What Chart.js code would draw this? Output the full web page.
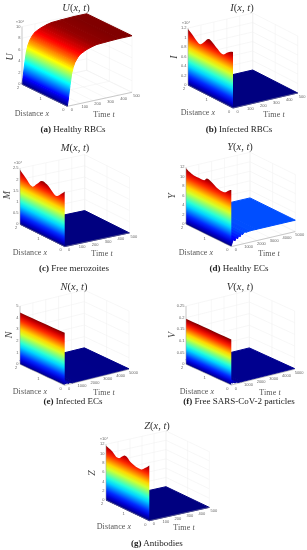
<!DOCTYPE html>
<html>
<head>
<meta charset="utf-8">
<title>Surface plots</title>
<script src="https://cdn.jsdelivr.net/npm/chart.js@4/dist/chart.umd.js"></script>
<style>
  html, body { margin: 0; padding: 0; background: #fff; }
  #page { position: relative; width: 307px; height: 550px; overflow: hidden; font-family: "Liberation Serif", serif; }
  canvas { position: absolute; }
  .lbl { position: absolute; transform: translate(-50%, -50%); white-space: nowrap; }
  .title { font-size: 10.5px; color: #333; }
  .name { font-size: 8px; color: #555; letter-spacing: 0.1px; }
  .cap { font-size: 9px; color: #222; }
  .zname { font-size: 10px; color: #444; transform: translate(-50%, -50%) rotate(-90deg); font-style: italic; }
</style>
</head>
<body>
<div id="page"></div>
<script>
// values
var distanceTicks = [0, 1, 2];
var timeTicksShort = [0, 100, 200, 300, 400, 500];
var timeTicksLong = [0, 1000, 2000, 3000, 4000, 5000];

var uTicks = [0, 2, 4, 6, 8, 10];
var iTicks = [0, 0.2, 0.4, 0.6, 0.8, 1, 1.2];
var mTicks = [0, 0.5, 1, 1.5, 2, 2.5];
var yTicks = [0, 2, 4, 6, 8, 10, 12];
var nTicks = [0, 1, 2, 3, 4, 5];
var vTicks = [0, 0.05, 0.1, 0.15, 0.2, 0.25];
var zTicks = [0, 2, 4, 6, 8, 10, 12];

// surface height along time at the near edge
var uTime = [0, 8, 21, 33, 45, 59, 78, 98, 125, 150, 190, 227, 300, 400, 500];
var uValues = [0, 1.2, 3.5, 5.4, 6.5, 7.3, 8, 8.5, 8.85, 9.1, 9.4, 9.6, 9.7, 9.8, 9.8];
var flatTimeShort = [0, 500];
var flatValuesShort = [0, 0];
var yTime = [0, 100, 200, 300, 400, 500, 600, 700, 800, 900, 1000, 1200, 1500, 2000, 5000];
var yValues = [0.2, 1, 1.6, 1.1, 1.9, 1.4, 2.1, 1.7, 2.3, 2, 2.4, 2.3, 2.4, 2.4, 2.4];
var nTime = [0, 100, 200, 300, 400, 600, 800, 5000];
var nValues = [0.35, 0.1, 0.2, 0.08, 0.12, 0.04, 0.05, 0.04];
var vValues = [0.02, 0.008, 0.012, 0.005, 0.007, 0.003, 0.003, 0.003];

// initial condition wall along distance at t = 0
var iDistance = [2, 1.81, 1.61, 1.46, 1.28, 1.09, 0.91, 0.69, 0.46, 0.24, 0.1, 0];
var iWall = [1.18, 1.11, 1.02, 0.99, 1.08, 1.19, 1.16, 1.08, 1.02, 1.11, 1.16, 1.18];
var mDistance = [2, 1.75, 1.45, 1.25, 1.03, 0.8, 0.55, 0.36, 0.15, 0];
var mWall = [2.43, 2.2, 1.96, 2.17, 2.42, 2.38, 2.18, 2.08, 2.28, 2.46];
var yDistance = [2, 1.85, 1.65, 1.4, 1.19, 1.07, 0.82, 0.6, 0.32, 0.1, 0];
var yWall = [11.8, 11.4, 11.1, 11.1, 11.2, 11.8, 11.4, 10.8, 10.7, 11.6, 11.9];
var nDistance = [2, 0];
var nWall = [4.45, 4.5];
var vWall = [0.195, 0.195];
var zDistance = [2, 1.74, 1.43, 1.12, 0.82, 0.4, 0.2, 0];
var zWall = [11.7, 11.2, 10.3, 11.5, 10.6, 10.2, 10.9, 11.9];

var panels = [
  { id: 'U', left: 0, top: 0, h: 135, tMax: 500, zMax: 10, ticks: uTicks, tTicks: timeTicksShort, times: uTime, vals: uValues, wallX: null, wallZ: null, exp: '×10⁶',
    o: [22, 84.3], dx: [45.3, 22], dt: [64.7, -14], zh: 57.7,
    title: [76, 7], cap: [73, 129], capB: '(a)', capT: ' Healthy RBCs', dist: [32, 113], time: [104, 114], zn: [9, 57] },
  { id: 'I', left: 154, top: 0, h: 135, tMax: 500, zMax: 1.2, ticks: iTicks, tTicks: timeTicksShort, times: flatTimeShort, vals: flatValuesShort, wallX: iDistance, wallZ: iWall, exp: '×10⁴',
    o: [34, 85], dx: [45, 23], dt: [64.7, -15], zh: 57,
    title: [88, 7], cap: [85, 129], capB: '(b)', capT: ' Infected RBCs', dist: [44, 112], time: [120, 114], zn: [19, 57] },
  { id: 'M', left: 0, top: 135, h: 135, tMax: 500, zMax: 2.5, ticks: mTicks, tTicks: timeTicksShort, times: flatTimeShort, vals: flatValuesShort, wallX: mDistance, wallZ: mWall, exp: '×10⁴',
    o: [20, 89.3], dx: [44.7, 22.3], dt: [64.7, -13.7], zh: 56,
    title: [75, 12], cap: [74, 133], capB: '(c)', capT: ' Free merozoites', dist: [30, 117], time: [102, 118], zn: [6, 60] },
  { id: 'Y', left: 154, top: 135, h: 135, tMax: 5000, zMax: 12, ticks: yTicks, tTicks: timeTicksLong, times: yTime, vals: yValues, wallX: yDistance, wallZ: yWall, exp: '',
    o: [32, 89.3], dx: [45.3, 22.3], dt: [64, -15], zh: 57,
    title: [86, 11], cap: [85, 133], capB: '(d)', capT: ' Healthy ECs', dist: [42, 117], time: [115, 118], zn: [17, 61] },
  { id: 'N', left: 0, top: 270, h: 135, tMax: 5000, zMax: 5, ticks: nTicks, tTicks: timeTicksLong, times: nTime, vals: nValues, wallX: nDistance, wallZ: nWall, exp: '',
    o: [20, 94.3], dx: [44.7, 21], dt: [64.3, -16], zh: 58.3,
    title: [74, 16], cap: [73, 131], capB: '(e)', capT: ' Infected ECs', dist: [30, 121], time: [104, 122], zn: [8, 65] },
  { id: 'V', left: 154, top: 270, h: 135, tMax: 5000, zMax: 0.25, ticks: vTicks, tTicks: timeTicksLong, times: nTime, vals: vValues, wallX: nDistance, wallZ: vWall, exp: '',
    o: [32, 94.3], dx: [45.3, 20.7], dt: [63.3, -15.7], zh: 58.3,
    title: [86, 16], cap: [85, 131], capB: '(f)', capT: ' Free SARS-CoV-2 particles', dist: [43, 121], time: [116, 122], zn: [17, 65] },
  { id: 'Z', left: 70, top: 405, h: 145, tMax: 500, zMax: 12, ticks: zTicks, tTicks: timeTicksShort, times: flatTimeShort, vals: flatValuesShort, wallX: zDistance, wallZ: zWall, exp: '×10⁴',
    o: [36, 95], dx: [43.3, 20.7], dt: [60, -13.3], zh: 55.7,
    title: [87, 20], cap: [87, 138], capB: '(g)', capT: ' Antibodies', dist: [44, 121], time: [114, 122], zn: [21, 68] }
];

var page = document.getElementById('page');
var PANEL_W = 153;

function jet(v) {
  v = Math.max(0, Math.min(1, v));
  function ch(c) { return Math.round(255 * Math.max(0, Math.min(1, 1.5 - Math.abs(4 * v - c)))); }
  return 'rgb(' + ch(3) + ',' + ch(2) + ',' + ch(1) + ')';
}

function project(p, x, t, z) {
  var fx = (2 - x) / 2, ft = t / p.tMax, fz = z / p.zMax;
  return {
    x: p.o[0] + fx * p.dx[0] + ft * p.dt[0],
    y: p.o[1] + fx * p.dx[1] + ft * p.dt[1] - fz * p.zh
  };
}

// gradient whose iso-lines run along the distance axis, so colour follows height
function heightGradient(chart, p, t0, z0, t1, z1, cMax) {
  var sx = chart.scales.x, sy = chart.scales.y;
  var a = project(p, 0, t0, z0), b = project(p, 0, t1, z1);
  var len = Math.sqrt(p.dx[0] * p.dx[0] + p.dx[1] * p.dx[1]);
  var nx = -p.dx[1] / len, ny = p.dx[0] / len;
  var d = (b.x - a.x) * nx + (b.y - a.y) * ny;
  var x0 = sx ? sx.getPixelForValue(a.x) : NaN;
  // scales are not laid out on the very first resolve
  if (!isFinite(x0) || Math.abs(d) < 0.01) return jet(z0 / cMax);
  var g = chart.ctx.createLinearGradient(
    x0, sy.getPixelForValue(a.y),
    sx.getPixelForValue(a.x + nx * d), sy.getPixelForValue(a.y + ny * d));
  for (var s = 0; s <= 12; s++) {
    g.addColorStop(s / 12, jet((z0 + (z1 - z0) * s / 12) / cMax));
  }
  return g;
}

function segments(list) {
  var pts = [];
  list.forEach(function(seg) {
    pts.push(seg[0], seg[1], { x: NaN, y: NaN });
  });
  return pts;
}

function lineSet(pts, color, width) {
  return { data: pts, borderColor: color, borderWidth: width, showLine: true, fill: false, pointRadius: 0, spanGaps: false, clip: false };
}

function gridSet(p) {
  var segs = [], P = function(x, t, z) { return project(p, x, t, z); };
  p.ticks.forEach(function(z) {
    segs.push([P(2, 0, z), P(2, p.tMax, z)]);
    segs.push([P(2, p.tMax, z), P(0, p.tMax, z)]);
  });
  p.tTicks.forEach(function(t) {
    segs.push([P(2, t, 0), P(2, t, p.zMax)]);
    segs.push([P(2, t, 0), P(0, t, 0)]);
  });
  distanceTicks.forEach(function(x) {
    segs.push([P(x, p.tMax, 0), P(x, p.tMax, p.zMax)]);
    segs.push([P(x, 0, 0), P(x, p.tMax, 0)]);
  });
  return lineSet(segments(segs), '#efefef', 0.5);
}

function axisSet(p) {
  var segs = [], P = function(x, t, z) { return project(p, x, t, z); };
  segs.push([P(2, 0, 0), P(2, 0, p.zMax)]);
  segs.push([P(2, 0, 0), P(0, 0, 0)]);
  segs.push([P(0, 0, 0), P(0, p.tMax, 0)]);
  return lineSet(segments(segs), '#999', 0.5);
}

function surfaceSets(p, cMax) {
  var out = [];
  for (var i = p.times.length - 2; i >= 0; i--) {
    (function(t0, z0, t1, z1) {
      var fillFn = function(ctx) { return heightGradient(ctx.chart, p, t0, z0, t1, z1, cMax); };
      out.push({
        data: [project(p, 2, t0, z0), project(p, 0, t0, z0), project(p, 0, t1, z1), project(p, 2, t1, z1), project(p, 2, t0, z0)],
        showLine: true, fill: 'shape', backgroundColor: fillFn, borderColor: fillFn, borderWidth: 1,
        pointRadius: 0, clip: false, tension: 0
      });
    })(p.times[i], p.vals[i], p.times[i + 1], p.vals[i + 1]);
  }
  return out;
}

function wallSet(p, cMax) {
  var baseL = project(p, 2, 0, 0), baseR = project(p, 0, 0, 0);
  // doubled points keep the corners sharp when the top edge is smoothed
  var pts = [baseL, baseL];
  p.wallX.forEach(function(x, k) {
    var q = project(p, x, 0, p.wallZ[k]);
    pts.push(q);
    if (k === 0 || k === p.wallX.length - 1) pts.push(q);
  });
  pts.push(baseR, baseR, baseL, baseL);
  var fillFn = function(ctx) { return heightGradient(ctx.chart, p, 0, 0, 0, cMax, cMax); };
  return { data: pts, showLine: true, fill: 'shape', backgroundColor: fillFn, borderColor: 'rgba(0,0,0,0)', borderWidth: 0, pointRadius: 0, clip: false, tension: 0.4 };
}

// 3D axes have no Chart.js scale, tick text goes on top through the plane scales
var tickLabels = {
  id: 'tickLabels',
  afterDraw: function(chart, args, opts) {
    var p = opts.panel, c = chart.ctx, sx = chart.scales.x, sy = chart.scales.y;
    function put(pt, ox, oy, text, align) {
      c.textAlign = align;
      c.fillText(text, sx.getPixelForValue(pt.x) + ox, sy.getPixelForValue(pt.y) + oy);
    }
    c.save();
    c.font = '4px "Liberation Sans", sans-serif';
    c.fillStyle = '#666';
    c.textBaseline = 'middle';
    p.ticks.forEach(function(z) { put(project(p, 2, 0, z), -1.5, 0, String(z), 'right'); });
    distanceTicks.forEach(function(x) { put(project(p, x, 0, 0), -4, 3.7, String(x), 'center'); });
    p.tTicks.forEach(function(t) { put(project(p, 0, t, 0), 4.5, 3.5, String(t), 'center'); });
    if (p.exp) put(project(p, 2, 0, p.zMax), -2, -5, p.exp, 'center');
    c.restore();
  }
};

function addLabel(p, cls, pos, html) {
  var el = document.createElement('div');
  el.className = 'lbl ' + cls;
  el.style.left = (p.left + pos[0]) + 'px';
  el.style.top = (p.top + pos[1]) + 'px';
  el.innerHTML = html;
  page.appendChild(el);
}

function drawPanel(p) {
  var canvas = document.createElement('canvas');
  canvas.width = PANEL_W;
  canvas.height = p.h;
  canvas.style.left = p.left + 'px';
  canvas.style.top = p.top + 'px';
  canvas.style.width = PANEL_W + 'px';
  canvas.style.height = p.h + 'px';
  page.appendChild(canvas);

  var cMax = Math.max.apply(null, p.vals.concat(p.wallZ || []));
  var sets = [gridSet(p)];
  sets = sets.concat(surfaceSets(p, cMax));
  if (p.wallX) sets.push(wallSet(p, cMax));
  sets.push(axisSet(p));
  // first dataset is painted last by Chart.js, so order has to run backwards
  sets.forEach(function(s, i) { s.order = sets.length - i; });

  new Chart(canvas, {
    type: 'scatter',
    data: { datasets: sets },
    options: {
      responsive: false,
      animation: false,
      layout: { padding: 0 },
      scales: {
        x: { type: 'linear', display: false, min: 0, max: PANEL_W },
        y: { type: 'linear', display: false, min: 0, max: p.h, reverse: true }
      },
      plugins: { legend: { display: false }, tooltip: { enabled: false }, tickLabels: { panel: p } }
    },
    plugins: [tickLabels]
  });

  addLabel(p, 'title', p.title, '<i>' + p.id + '</i>(<i>x</i>, <i>t</i>)');
  addLabel(p, 'cap', p.cap, '<b>' + p.capB + '</b>' + p.capT);
  addLabel(p, 'name', p.dist, 'Distance <i>x</i>');
  addLabel(p, 'name', p.time, 'Time <i>t</i>');
  addLabel(p, 'zname', p.zn, p.id);
}

panels.forEach(drawPanel);
</script>
</body>
</html>
